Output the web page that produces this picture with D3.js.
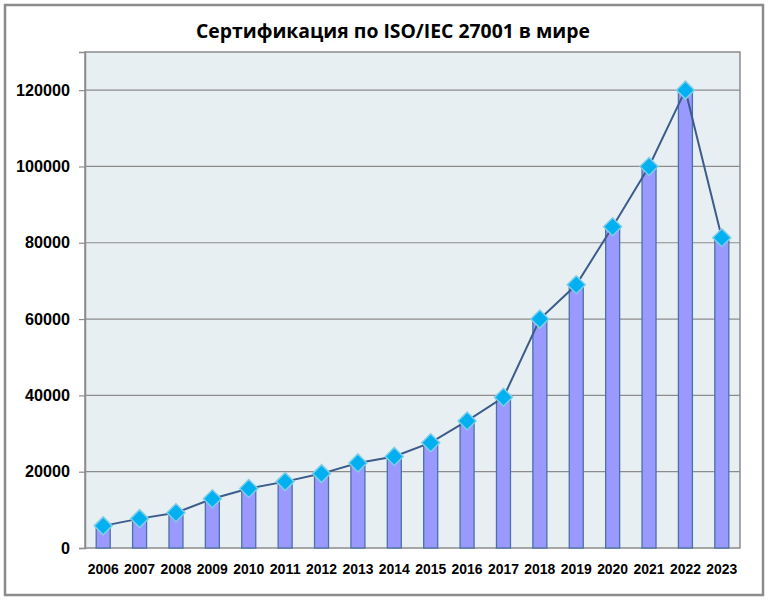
<!DOCTYPE html>
<html><head><meta charset="utf-8">
<script src="https://cdn.jsdelivr.net/npm/d3@7"></script>
<style>body{margin:0;background:#fff}</style>
</head><body>
<svg id="c" width="772" height="604"></svg>
<script>
const years = ["2006","2007","2008","2009","2010","2011","2012","2013","2014","2015","2016","2017","2018","2019","2020","2021","2022","2023"];
const certificates = [5800,7700,9250,12900,15600,17400,19500,22300,24000,27600,33300,39500,60000,69000,84200,100000,120000,81300];
const yTicks = [0,20000,40000,60000,80000,100000,120000];
const title = "Сертификация по ISO/IEC 27001 в мире";

const svg = d3.select("#c");
const L=85, R=740, T=52, B=548;
svg.append("rect").attr("x",5).attr("y",5).attr("width",758).attr("height",590)
  .attr("fill","#fff").attr("stroke","#8c8c8c").attr("stroke-width",2.5);
svg.append("rect").attr("x",L).attr("y",T).attr("width",R-L).attr("height",B-T)
  .attr("fill","#e8eff3").attr("stroke","#8c8c8c").attr("stroke-width",1.5);

const x = d3.scaleBand().domain(years).range([L,R]);
const y = d3.scaleLinear().domain([0,130000]).range([B,T]);

// grid
svg.append("g").selectAll("line").data(yTicks.filter(d=>d>0)).join("line")
  .attr("x1",L).attr("x2",R).attr("y1",d=>y(d)).attr("y2",d=>y(d))
  .attr("stroke","#8c8c8c").attr("stroke-width",1.2);

// y axis
const ya = svg.append("g").attr("transform",`translate(${L},0)`)
  .call(d3.axisLeft(y).tickValues(yTicks).tickSize(6).tickPadding(9).tickFormat(d3.format("d")));
ya.select(".domain").attr("stroke","#8c8c8c").attr("stroke-width",1.5);
ya.selectAll(".tick line").attr("stroke","#8c8c8c").attr("stroke-width",1.2);
ya.selectAll(".tick text").attr("font-family","Liberation Sans, Arial, sans-serif")
  .attr("font-weight","bold").attr("font-size","16px").attr("fill","#000")
  .attr("textLength",d=>String(d).length*9).attr("lengthAdjust","spacingAndGlyphs");

// bars
const bw = 14;
svg.append("g").selectAll("rect").data(years).join("rect")
  .attr("x",(d)=>x(d)+x.bandwidth()/2-bw/2)
  .attr("y",(d,i)=>y(certificates[i]))
  .attr("width",bw).attr("height",(d,i)=>B-y(certificates[i]))
  .attr("fill","#9999ff").attr("stroke","#4a72a8").attr("stroke-width",1.3);

// x labels
svg.append("g").selectAll("text").data(years).join("text")
  .attr("x",d=>x(d)+x.bandwidth()/2).attr("y",574)
  .attr("text-anchor","middle")
  .attr("font-family","Liberation Sans, Arial, sans-serif").attr("font-weight","bold")
  .attr("font-size","15px").attr("textLength",31).attr("lengthAdjust","spacingAndGlyphs")
  .text(d=>d);

// line
const line = d3.line().x((d,i)=>x(years[i])+x.bandwidth()/2).y(d=>y(d));
svg.append("path").datum(certificates).attr("d",line)
  .attr("fill","none").attr("stroke","#3b5c8c").attr("stroke-width",2);

// markers
svg.append("g").selectAll("path").data(certificates).join("path")
  .attr("transform",(d,i)=>`translate(${x(years[i])+x.bandwidth()/2},${y(d)})`)
  .attr("d","M0,-9L9,0L0,9L-9,0Z")
  .attr("fill","#00b0f0").attr("stroke","#80cde6").attr("stroke-width",1.5);

// title
svg.append("text").attr("x",393).attr("y",38).attr("text-anchor","middle")
  .attr("font-family","Open Sans, Noto Sans, sans-serif").attr("font-weight","bold")
  .attr("font-size","20px").attr("textLength",394).attr("lengthAdjust","spacingAndGlyphs")
  .text(title);
</script>
</body></html>
